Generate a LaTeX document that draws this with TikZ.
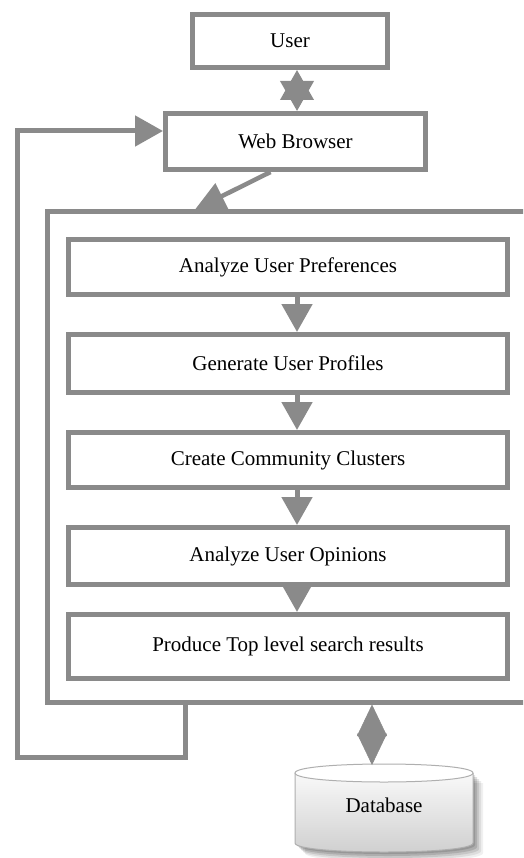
\documentclass[tikz,border=0pt]{standalone}
\usepackage{fontspec}
\setmainfont{Liberation Serif}
\usetikzlibrary{arrows.meta,calc}
\definecolor{linegray}{RGB}{138,138,138}
\definecolor{dbedge}{RGB}{175,175,175}
\begin{document}
\begin{tikzpicture}[x=1pt,y=-1pt,
  box/.style={draw=linegray, line width=5pt, fill=white, rectangle, inner sep=0pt,
    font=\fontsize{21}{25}\selectfont},
  flow/.style={draw=linegray, line width=5pt, line join=miter,
    -{Triangle[length=28pt,width=30pt]}},
  starlink/.style={draw=linegray, line width=4pt,
    {Triangle[length=30pt,width=33pt]}-{Triangle[length=30pt,width=33pt]}},
  dblink/.style={draw=linegray, line width=0.5pt,
    {Triangle[length=31.5pt,width=30pt]}-{Triangle[length=31.5pt,width=30pt]}},
  dbtext/.style={font=\fontsize{21}{25}\selectfont, inner sep=0pt}
]
\useasboundingbox (0,0) rectangle (523,858);
\fill[white] (0,0) rectangle (523,858);
\clip (0,0) rectangle (523,858);

% outer frame around the processing steps (its right side runs off the page)
\node[box, minimum width=512.5pt, minimum height=490pt] (frame) at (303.75,457) {};

% top boxes
\node[box, minimum width=195pt, minimum height=53pt] (user) at (290,41) {User};
\node[box, minimum width=260pt, minimum height=56pt] (web) at (295.5,141.5) {Web Browser};

% processing steps
\node[box, minimum width=439pt, minimum height=55pt] (s1) at (288,267)   {Analyze User Preferences};
\node[box, minimum width=439pt, minimum height=58pt] (s2) at (288,363.5) {Generate User Profiles};
\node[box, minimum width=439pt, minimum height=55pt] (s3) at (288,460)   {Create Community Clusters};
\node[box, minimum width=439pt, minimum height=57pt] (s4) at (288,556)   {Analyze User Opinions};
\node[box, minimum width=439pt, minimum height=64pt] (s5) at (288,646.5) {Produce Top level search results};

% step-to-step arrows
\foreach \a/\b in {s1/s2, s2/s3, s3/s4, s4/s5}
  \draw[flow] ([xshift=9pt]\a.south) -- ([xshift=9pt]\b.north);

% user <-> browser
\draw[starlink] ([xshift=7pt]user.south) -- ([xshift=1.5pt]web.north);

% browser -> frame
\draw[flow, line width=4.5pt, -{Triangle[length=30pt,width=28pt]}] ([xshift=-25pt]web.south) -- ([xshift=-108.75pt]frame.north);

% feedback loop back to the browser
\coordinate (loopstart) at ([xshift=140pt]frame.south west);
\coordinate (loopcorner) at (17,757);
\draw[flow] (loopstart) |- (loopcorner) |- ([yshift=10.5pt]web.west);

% database cylinder
\begin{scope}
  % soft shadow
  \foreach \d/\o in {10/0.06, 8/0.08, 6/0.10, 4/0.12, 2/0.12}
    \fill[black, opacity=\o]
      (295+\d,773+\d) -- (295+\d,843+\d)
      .. controls (295+\d,855+\d) and (473+\d,855+\d) .. (473+\d,843+\d)
      -- (473+\d,773+\d) -- cycle;
  % body
  \shade[top color=white, bottom color=gray!38]
    (295,773) -- (295,843)
    .. controls (295,855) and (473,855) .. (473,843)
    -- (473,773)
    .. controls (473,761) and (295,761) .. (295,773) -- cycle;
  \draw[dbedge, line width=1pt]
    (295,773) -- (295,843)
    .. controls (295,855) and (473,855) .. (473,843)
    -- (473,773);
  % top face
  \fill[white]
    (295,773) .. controls (295,761) and (473,761) .. (473,773)
    .. controls (473,785) and (295,785) .. (295,773) -- cycle;
  \draw[dbedge, line width=1pt]
    (295,773) .. controls (295,761) and (473,761) .. (473,773)
    .. controls (473,785) and (295,785) .. (295,773) -- cycle;
\end{scope}
\node[dbtext] (db) at (384,805) {Database};
\coordinate (dbin) at (372,765);

% frame <-> database
\draw[dblink] (frame.south -| dbin) -- (dbin);
\end{tikzpicture}
\end{document}
